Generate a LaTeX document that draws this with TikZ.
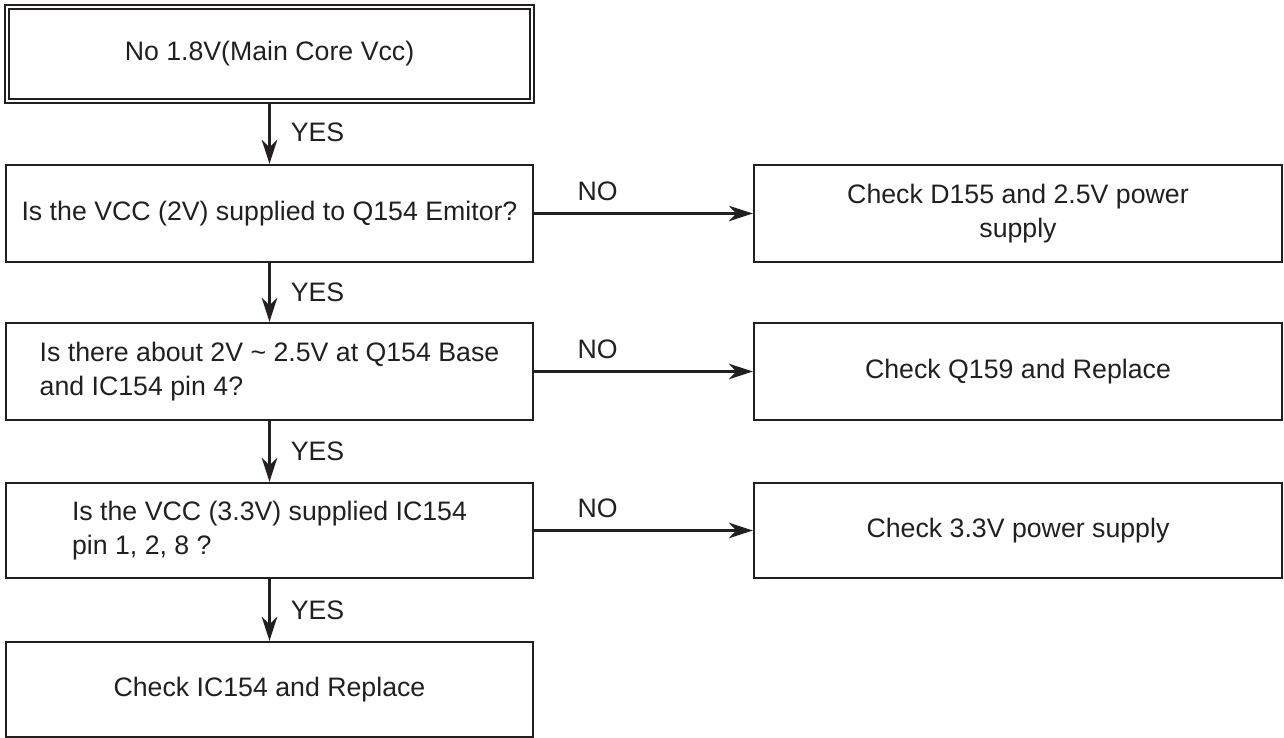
\documentclass[tikz,border=0pt]{standalone}
\usepackage{fontspec}
\setmainfont{Liberation Sans}
\usetikzlibrary{arrows.meta, positioning}
\definecolor{inkgray}{HTML}{231F20}

\begin{document}
\begin{tikzpicture}[>={Stealth[length=4.8mm, width=3.1mm, inset=1.5mm]},
  font=\fontsize{15.2}{19.3}\selectfont, text=inkgray,
  stepbox/.style={draw=inkgray, line width=1.3pt, minimum width=10.54cm, minimum height=1.94cm, align=left, inner sep=0pt},
  checkbox/.style={stepbox, minimum width=10.56cm, align=center},
  flow/.style={->, draw=inkgray, line width=1.5pt},
  yeslabel/.style={right=0.4cm, inner sep=0pt},
  nolabel/.style={above=0.22cm, inner sep=0pt}]

% Frame of the page
\useasboundingbox (0,0) rectangle (25.68,-14.76);

% Left column: start and questions
\node[stepbox, double=white, double distance=0.05cm, line width=0.8pt, minimum width=10.5cm, minimum height=1.88cm] (core) at (5.39,-1.08) {No 1.8V(Main Core Vcc)};
\node[stepbox] (emitq) at (5.39,-4.27) {Is the VCC (2V) supplied to Q154 Emitor?};
\node[stepbox] (baseq) at (5.39,-7.43) {Is there about 2V \textasciitilde{} 2.5V at Q154 Base\\and IC154 pin 4?};
\node[stepbox, minimum height=1.90cm] (pinq) at (5.39,-10.61) {Is the VCC (3.3V) supplied IC154\\pin 1, 2, 8 ?};
\node[stepbox, minimum height=1.90cm] (icfix) at (5.39,-13.79) {Check IC154 and Replace};

% Right column: repairs
\node[checkbox] (diodefix) at (20.36,-4.27) {Check D155 and 2.5V power\\supply};
\node[checkbox] (qfix) at (20.36,-7.43) {Check Q159 and Replace};
\node[checkbox, minimum height=1.90cm] (supplyfix) at (20.36,-10.61) {Check 3.3V power supply};

% YES arrows
\draw[flow] (core.south) -- node[yeslabel] {YES} (emitq.north);
\draw[flow] (emitq.south) -- node[yeslabel] {YES} (baseq.north);
\draw[flow] (baseq.south) -- node[yeslabel] {YES} (pinq.north);
\draw[flow] (pinq.south) -- node[yeslabel] {YES} (icfix.north);

% NO arrows
\draw[flow] (emitq.east) -- node[pos=0.29, nolabel] {NO} (diodefix.west);
\draw[flow] (baseq.east) -- node[pos=0.29, nolabel] {NO} (qfix.west);
\draw[flow] (pinq.east) -- node[pos=0.29, nolabel] {NO} (supplyfix.west);

\end{tikzpicture}
\end{document}
